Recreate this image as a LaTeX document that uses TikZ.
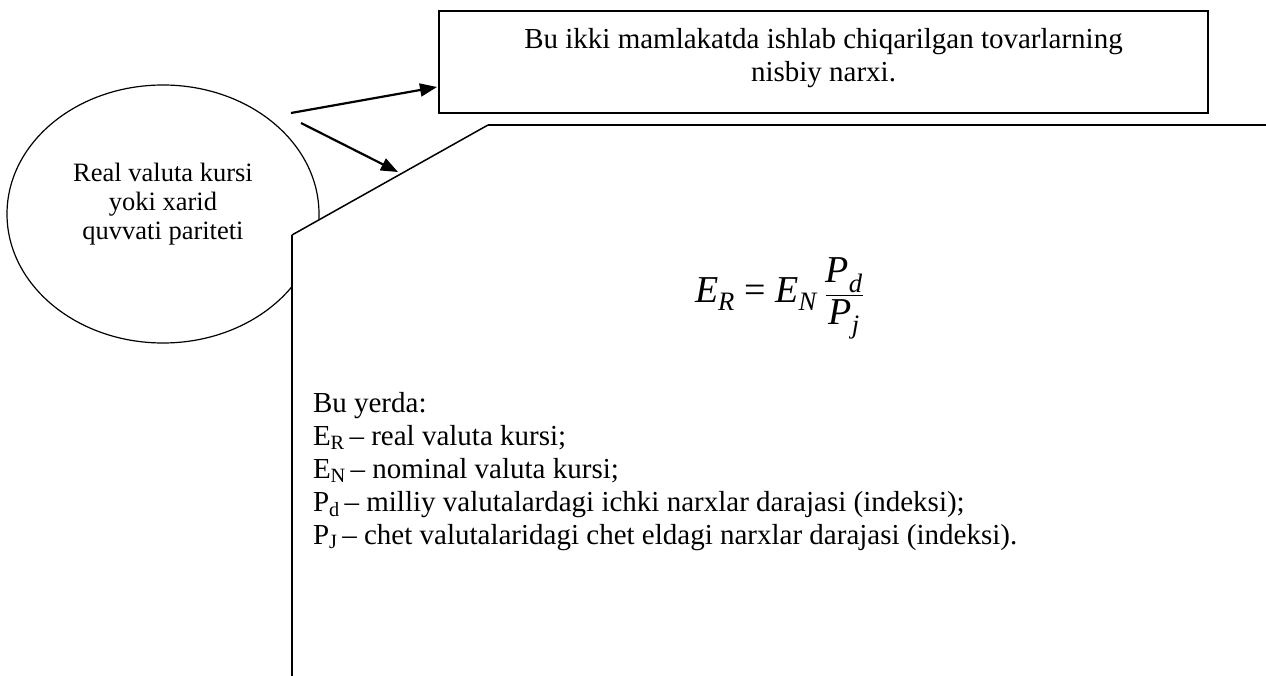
\documentclass[tikz,border=0pt]{standalone}
\usepackage{amsmath}
\usepackage{fontspec}
\setmainfont{Liberation Serif}
\usetikzlibrary{shapes.geometric,arrows.meta}
\newcommand{\vi}[1]{\text{\itshape #1}}
\begin{document}
\begin{tikzpicture}[x=1pt,y=-1pt,
  outline/.style={draw=black,line width=1.3pt},
  conn/.style={line width=2.2pt,-{Triangle[length=17pt,width=13pt]}},
  plain/.style={inner sep=0pt,outer sep=0pt},
]
\useasboundingbox (0,0) rectangle (1266,676);
% ellipse
\node[ellipse,outline,line width=1.2pt,minimum width=312pt,minimum height=258pt,plain] (ell) at (163,214) {};
\node[plain,align=center,font=\fontsize{26.5}{29}\selectfont] (elltext) at (163,204)
  {Real valuta kursi\\yoki xarid\\quvvati pariteti};
% top box
\node[outline,plain,minimum width=769pt,minimum height=102pt] (box) at (823.5,62) {};
\node[plain,align=center,font=\fontsize{29}{33}\selectfont,anchor=north] (boxtext) at (823.5,28)
  {Bu ikki mamlakatda ishlab chiqarilgan tovarlarning\\nisbiy narxi.};
% big white panel
\coordinate (pr) at (1266,125);
\coordinate (pt) at (488,125);
\coordinate (pc) at (292,235);
\coordinate (pb) at (292,677);
\fill[white] (pr) -- (pt) -- (pc) -- (pb) -- (1266,677) -- cycle;
\draw[line width=1.5pt] (pc) -- (pt);
\draw[line width=2pt] (pt) -- (pr);
\draw[line width=2pt] (pc) -- (pb);
% arrows
\coordinate (a1s) at (291,113);
\coordinate (a1e) at (437,87);
\coordinate (a2s) at (301,123);
\coordinate (a2e) at (398,172);
\draw[conn] (a1s) -- (a1e);
\draw[conn] (a2s) -- (a2e);
% formula
\node[plain,anchor=base west,font=\fontsize{38}{44}\selectfont] (formula) at (695,302)
  {$\vi{E}_{\vi{R}}\text{\hspace{0.25em}=\hspace{0.25em}}\vi{E}_{\vi{N}}\text{\hspace{0.2em}}
    \dfrac{\vi{P}_{\vi{d}}}{\vi{P}_{\vi{j}}}$};
% explanation
\node[plain,anchor=north west,align=left,font=\fontsize{29}{33}\selectfont] (expl) at (313,392)
  {Bu yerda:\\
   E\textsubscript{R}\,– real valuta kursi;\\
   E\textsubscript{N}\,– nominal valuta kursi;\\
   P\textsubscript{d}\,– milliy valutalardagi ichki narxlar darajasi (indeksi);\\
   P\textsubscript{J}\,– chet valutalaridagi chet eldagi narxlar darajasi (indeksi).};
\end{tikzpicture}
\end{document}
